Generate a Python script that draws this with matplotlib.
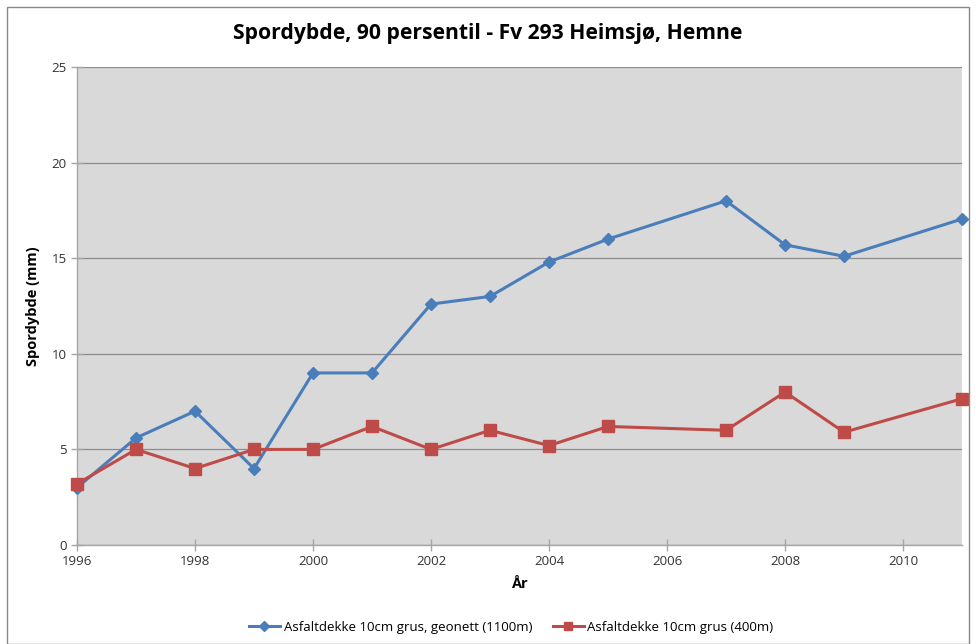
import matplotlib
matplotlib.use('Agg')
import matplotlib.pyplot as plt
from matplotlib.patches import Rectangle

plt.rcParams['font.family'] = ['Open Sans', 'DejaVu Sans']

# data
years_geonett = [1996, 1997, 1998, 1999, 2000, 2001, 2002, 2003, 2004, 2005, 2007, 2008, 2009, 2011]
spor_geonett = [3.0, 5.6, 7.0, 4.0, 9.0, 9.0, 12.6, 13.0, 14.8, 16.0, 18.0, 15.7, 15.1, 17.05]
years_grus = [1996, 1997, 1998, 1999, 2000, 2001, 2002, 2003, 2004, 2005, 2007, 2008, 2009, 2011]
spor_grus = [3.2, 5.0, 4.0, 5.0, 5.0, 6.2, 5.0, 6.0, 5.2, 6.2, 6.0, 8.0, 5.9, 7.65]
x_ticks = [1996, 1998, 2000, 2002, 2004, 2006, 2008, 2010]
y_ticks = [0, 5, 10, 15, 20, 25]

BLUE = '#4a7ebb'
RED = '#be4b48'

fig = plt.figure(figsize=(9.76, 6.44), dpi=100)
ax = fig.add_axes([0.0789, 0.1537, 0.9068, 0.7423])
ax.set_facecolor('#d9d9d9')

ax.plot(years_geonett, spor_geonett, color=BLUE, linewidth=2.2, marker='D',
        markersize=6, label='Asfaltdekke 10cm grus, geonett (1100m)', zorder=3, clip_on=False)
ax.plot(years_grus, spor_grus, color=RED, linewidth=2.2, marker='s',
        markersize=8, label='Asfaltdekke 10cm grus (400m)', zorder=4, clip_on=False)

ax.set_xlim(1996, 2011)
ax.set_ylim(0, 25)
ax.set_xticks(x_ticks)
ax.set_yticks(y_ticks)
ax.yaxis.grid(True, color='#8c8c8c', linewidth=0.9)
ax.set_axisbelow(True)

for side in ['top', 'right']:
    ax.spines[side].set_visible(False)
for side in ['left', 'bottom']:
    ax.spines[side].set_color('#a6a6a6')
    ax.spines[side].set_linewidth(1.0)
ax.tick_params(axis='both', colors='#a6a6a6', labelcolor='#333333', labelsize=9.5,
               direction='inout', length=8, width=1.0)

ax.set_xlabel('År', fontsize=10.5, fontweight='bold', labelpad=6)
ax.set_ylabel('Spordybde (mm)', fontsize=10.5, fontweight='bold', labelpad=8)
fig.suptitle('Spordybde, 90 persentil - Fv 293 Heimsjø, Hemne', fontsize=15.2,
             fontweight='bold', y=0.965)

fig.legend(loc='center', bbox_to_anchor=(0.524, 0.026), ncol=2, frameon=False,
           fontsize=9.5, columnspacing=1.6, handlelength=2.3, handletextpad=0.3,
           markerscale=0.8)

fig.patches.append(Rectangle((0.007, 0.0), 0.986, 0.989, transform=fig.transFigure,
                             fill=False, edgecolor='#888888', linewidth=1.0))

fig.savefig('out.png', dpi=100)
